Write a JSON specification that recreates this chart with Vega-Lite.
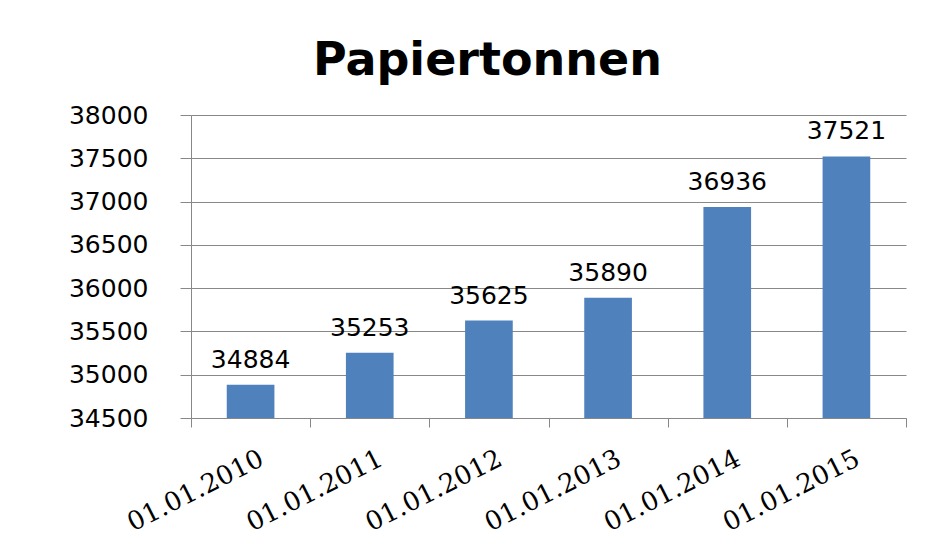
{
  "$schema": "https://vega.github.io/schema/vega-lite/v6.json",
  "width": 715,
  "height": 303,
  "autosize": {"type": "none"},
  "padding": {"left": 191, "top": 115, "right": 35, "bottom": 125},
  "background": "white",
  "title": {"text": "Papiertonnen", "font": "DejaVu Sans", "fontSize": 46, "fontWeight": "bold", "color": "black", "anchor": "middle", "frame": "bounds", "offset": 18},
  "config": {"view": {"stroke": null}},
  "data": {"values": [
    {"date": "01.01.2010", "value": 34884},
    {"date": "01.01.2011", "value": 35253},
    {"date": "01.01.2012", "value": 35625},
    {"date": "01.01.2013", "value": 35890},
    {"date": "01.01.2014", "value": 36936},
    {"date": "01.01.2015", "value": 37521}
  ]},
  "encoding": {
    "x": {"field": "date", "type": "ordinal", "sort": null,
      "scale": {"paddingInner": 0, "paddingOuter": 0},
      "axis": {"title": null, "domainColor": "#888888", "tickColor": "#888888", "tickSize": 9, "tickBand": "extent",
        "labelAngle": -27, "labelAlign": "right", "labelBaseline": "top", "labelFont": "DejaVu Serif", "labelFontSize": 26,
        "labelColor": "black", "labelPadding": 18, "labelOffset": 5, "grid": false}},
    "y": {"field": "value", "type": "quantitative",
      "scale": {"domain": [34500, 38000], "zero": false, "nice": false},
      "axis": {"title": null, "values": [34500, 35000, 35500, 36000, 36500, 37000, 37500, 38000], "format": "d",
        "gridColor": "#888888", "domainColor": "#888888", "tickColor": "#888888", "tickSize": 11, "labelPadding": 32,
        "labelFont": "DejaVu Sans", "labelFontSize": 25, "labelColor": "black"}}
  },
  "layer": [
    {"mark": {"type": "bar", "color": "#4F81BD", "clip": true, "width": {"band": 0.4}}},
    {"mark": {"type": "text", "font": "DejaVu Sans", "fontSize": 25, "color": "black", "baseline": "alphabetic", "dy": -17},
     "encoding": {"text": {"field": "value", "type": "quantitative", "format": "d"}}}
  ]
}
